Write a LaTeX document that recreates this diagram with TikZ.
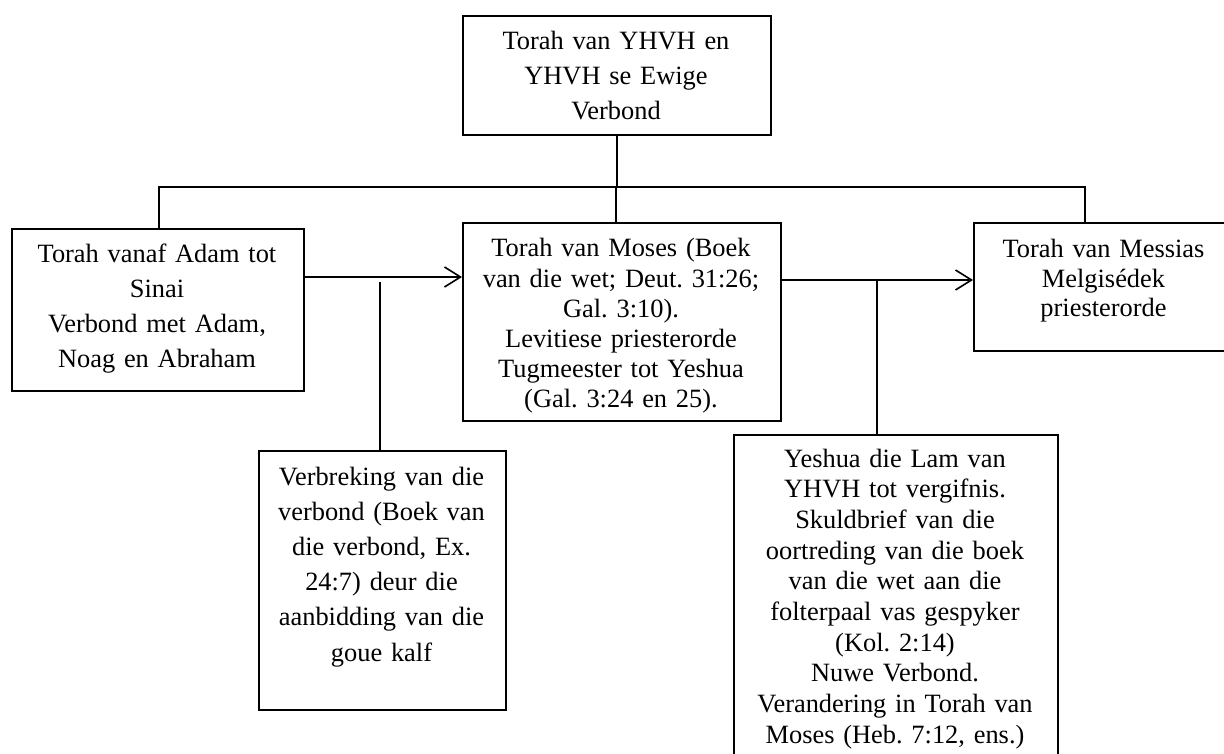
\documentclass[tikz,border=0pt]{standalone}
\usepackage{fontspec}
\setmainfont{Liberation Serif}
\usetikzlibrary{arrows.meta}
\frenchspacing
\begin{document}
\begin{tikzpicture}[x=1pt,y=-1pt,line width=1.6pt,
  box/.style={draw, line width=1.6pt, inner sep=0pt, anchor=north west},
  txt/.style={inner sep=0pt, align=center, anchor=base, font=\fontsize{26.4}{#1}\selectfont\frenchspacing},
  txt/.default=35,
  arr/.style={-{Straight Barb[length=16pt,width=20pt,line width=1.6pt]}}]
\useasboundingbox (0,0) rectangle (1224,754);
\clip (0,0) rectangle (1224,754);
% boxes
\node[box, minimum width=308pt, minimum height=119pt] (top) at (462,15) {};
\node[box, minimum width=292pt, minimum height=162pt] (left) at (11,228) {};
\node[box, minimum width=318pt, minimum height=198pt] (mid) at (462,222) {};
\node[box, minimum width=261pt, minimum height=128pt] (right) at (973,222) {};
\node[box, minimum width=247pt, minimum height=259pt] (ver) at (258,450) {};
\node[box, minimum width=324pt, minimum height=330pt] (yes) at (733,434) {};
% texts
\node[txt, text width=300pt] (topT) at (616,50) {Torah van YHVH en\\YHVH se Ewige\\Verbond};
\node[txt, text width=290pt] (leftT) at (157,263) {Torah vanaf Adam tot\\Sinai\\Verbond met Adam,\\Noag en Abraham};
\node[txt=30.2, text width=316pt] (midT) at (621,257) {Torah van Moses (Boek\\van die wet; Deut. 31:26;\\Gal. 3:10).\\Levitiese priesterorde\\Tugmeester tot Yeshua\\(Gal. 3:24 en 25).};
\node[txt=29.5, text width=250pt] (rightT) at (1103.5,258) {Torah van Messias\hspace*{19pt}\\Melgisédek\\priesterorde};
\node[txt=35.2, text width=245pt] (verT) at (381.5,485) {Verbreking van die\\verbond (Boek van\\die verbond, Ex.\\24:7) deur die\\aanbidding van die\\goue kalf};
\node[txt=30.7, text width=322pt] (yesT) at (895,467) {Yeshua die Lam van\\YHVH tot vergifnis.\\Skuldbrief van die\\oortreding van die boek\\van die wet aan die\\folterpaal vas gespyker\\(Kol. 2:14)\\Nuwe Verbond.\\Verandering in Torah van\\Moses (Heb. 7:12, ens.)};
% connectors
\coordinate (bL) at (159,187);
\coordinate (bM) at (616,187);
\coordinate (bR) at (1085,187);
\coordinate (j1) at (380,282);
\coordinate (j2) at (877,280);
\draw (top.south) -- (top.south |- bM);
\draw (bL |- left.north) -- (bL) -- (bR) -- (bR |- right.north);
\draw (bM) -- (bM |- mid.north);
\draw[arr] (left.east |- 0,277) -- (mid.west |- 0,277);
\draw (j1) -- (j1 |- ver.north);
\draw[arr] (mid.east |- j2) -- (right.west |- j2);
\draw (j2) -- (j2 |- yes.north);
\end{tikzpicture}
\end{document}
